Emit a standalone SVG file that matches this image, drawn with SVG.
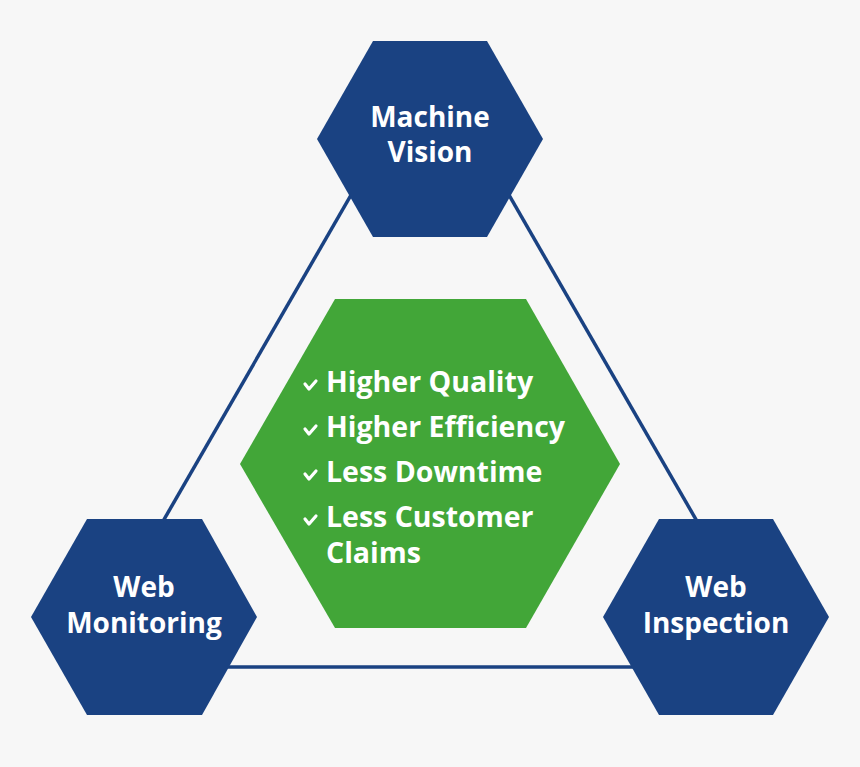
<svg xmlns="http://www.w3.org/2000/svg" width="860" height="767" viewBox="0 0 860 767">
<style>
.hex{fill:#1a4282}
.green{fill:#42a638}
.conn{stroke:#1a4282;stroke-width:3.5;fill:none}
.lbl{font-family:"Open Sans","Noto Sans",sans-serif;font-weight:bold;font-size:28px;fill:#ffffff;text-anchor:middle}
.item{font-family:"Open Sans","Noto Sans",sans-serif;font-weight:bold;font-size:28.5px;fill:#ffffff}
.chk{stroke:#ffffff;stroke-width:3.2;fill:none;stroke-linecap:round;stroke-linejoin:round}
</style>
<rect width="860" height="767" fill="#f7f7f7"/>
<g id="connectors">
<line class="conn" x1="430" y1="58" x2="79" y2="667"/>
<line class="conn" x1="430" y1="58" x2="781" y2="667"/>
<line class="conn" x1="79" y1="667" x2="781" y2="667"/>
</g>
<g id="machine-vision">
<polygon class="hex" points="373,41 487,41 543,139 487,237 373,237 317,139"/>
<text class="lbl" x="430" y="127">Machine</text>
<text class="lbl" x="430" y="162">Vision</text>
</g>
<g id="web-monitoring">
<polygon class="hex" points="87,519 202,519 257,617 202,715 87,715 31,617"/>
<text class="lbl" x="144" y="597">Web</text>
<text class="lbl" x="144" y="633">Monitoring</text>
</g>
<g id="web-inspection">
<polygon class="hex" points="659,519 773,519 829,617 773,715 659,715 603,617"/>
<text class="lbl" x="716" y="597">Web</text>
<text class="lbl" x="716" y="633">Inspection</text>
</g>
<g id="benefits">
<polygon class="green" points="335,299 526,299 620,464 526,628 335,628 240,464"/>
<path class="chk" d="M305,384 l4,5 l7,-8"/>
<path class="chk" d="M305,429 l4,5 l7,-8"/>
<path class="chk" d="M305,474 l4,5 l7,-8"/>
<path class="chk" d="M305,519 l4,5 l7,-8"/>
<text class="item" x="326" y="392">Higher Quality</text>
<text class="item" x="326" y="437">Higher Efficiency</text>
<text class="item" x="326" y="482">Less Downtime</text>
<text class="item" x="326" y="527">Less Customer</text>
<text class="item" x="326" y="563">Claims</text>
</g>
</svg>
